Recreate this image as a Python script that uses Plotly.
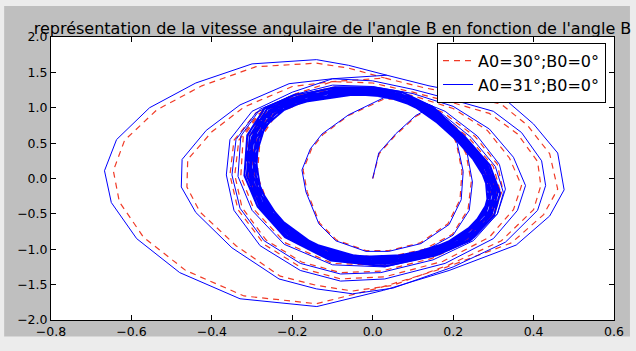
import plotly.graph_objects as go

# ---------------- data (theta_B, omega_B) ----------------
# A0=31°;B0=0° (blue, solid)
b31_first = [(0.0, 0.0), (0.015, 0.36), (0.057, 0.63), (0.107, 0.89), (0.14, 0.99), (0.18, 0.85), (0.21, 0.5),
             (0.225, 0.1), (0.22, -0.3), (0.19, -0.65), (0.12, -0.92), (0.04, -1.03), (-0.017, -1.03),
             (-0.092, -0.88), (-0.134, -0.64), (-0.166, -0.19), (-0.176, 0.12), (-0.155, 0.42), (-0.126, 0.63),
             (-0.06, 0.9), (0.027, 1.14), (0.09, 1.15), (0.15, 1.02), (0.2, 0.75), (0.235, 0.35), (0.248, -0.05),
             (0.24, -0.45), (0.2, -0.8), (0.13, -1.02), (0.03, -1.14), (-0.1, -1.08), (-0.2, -0.78),
             (-0.262, -0.36), (-0.29, 0.04), (-0.283, 0.57), (-0.24, 0.93), (-0.17, 1.1)]
b31_band = [
    (-0.086, 1.18), (0.0, 1.18), (0.067, 1.11), (0.133, 0.93), (0.209, 0.54), (0.266, 0.17), (0.29, -0.19), (0.276, -0.48), (0.221, -0.81), (0.143, -1.0), (0.029, -1.13), (-0.095, -1.06), (-0.2, -0.76), (-0.261, -0.36), (-0.292, 0.04), (-0.285, 0.56), (-0.245, 0.91), (-0.174, 1.08),
    (-0.043, 1.19), (0.034, 1.16), (0.101, 1.03), (0.173, 0.74), (0.24, 0.36), (0.281, -0.01), (0.286, -0.34), (0.252, -0.65), (0.184, -0.91), (0.086, -1.08), (-0.034, -1.11), (-0.149, -0.92), (-0.233, -0.57), (-0.279, -0.16), (-0.292, 0.3), (-0.268, 0.74), (-0.212, 1.01), (-0.132, 1.14),
    (-0.087, 1.2), (0.0, 1.2), (0.068, 1.13), (0.136, 0.95), (0.213, 0.55), (0.272, 0.17), (0.296, -0.19), (0.281, -0.49), (0.226, -0.82), (0.146, -1.02), (0.029, -1.15), (-0.097, -1.09), (-0.204, -0.78), (-0.267, -0.37), (-0.298, 0.04), (-0.291, 0.57), (-0.25, 0.93), (-0.178, 1.11),
    (-0.044, 1.22), (0.034, 1.18), (0.103, 1.05), (0.176, 0.76), (0.245, 0.37), (0.287, -0.01), (0.292, -0.34), (0.257, -0.66), (0.188, -0.93), (0.088, -1.1), (-0.034, -1.13), (-0.152, -0.94), (-0.238, -0.58), (-0.285, -0.17), (-0.298, 0.31), (-0.273, 0.76), (-0.217, 1.03), (-0.134, 1.17),
    (-0.089, 1.23), (0.0, 1.23), (0.069, 1.16), (0.139, 0.97), (0.218, 0.56), (0.277, 0.18), (0.302, -0.2), (0.287, -0.5), (0.231, -0.84), (0.149, -1.04), (0.03, -1.18), (-0.099, -1.11), (-0.208, -0.79), (-0.272, -0.38), (-0.304, 0.04), (-0.297, 0.58), (-0.255, 0.95), (-0.181, 1.13),
    (-0.09, 1.24), (0.0, 1.24), (0.07, 1.17), (0.14, 0.98), (0.22, 0.57), (0.28, 0.18), (0.305, -0.2), (0.29, -0.5), (0.233, -0.85), (0.15, -1.05), (0.03, -1.19), (-0.1, -1.12), (-0.21, -0.8), (-0.275, -0.38), (-0.307, 0.04), (-0.3, 0.59), (-0.258, 0.96), (-0.183, 1.14),
    (-0.045, 1.25), (0.035, 1.22), (0.106, 1.09), (0.182, 0.78), (0.253, 0.38), (0.296, -0.01), (0.301, -0.35), (0.265, -0.68), (0.194, -0.96), (0.091, -1.13), (-0.035, -1.17), (-0.157, -0.97), (-0.245, -0.6), (-0.294, -0.17), (-0.307, 0.32), (-0.282, 0.78), (-0.223, 1.06), (-0.138, 1.2),
    (-0.092, 1.26), (0.0, 1.26), (0.071, 1.19), (0.143, 1.0), (0.224, 0.58), (0.286, 0.18), (0.311, -0.2), (0.296, -0.51), (0.238, -0.87), (0.153, -1.07), (0.031, -1.21), (-0.102, -1.14), (-0.214, -0.82), (-0.281, -0.39), (-0.313, 0.04), (-0.306, 0.6), (-0.263, 0.98), (-0.187, 1.16),
    (-0.046, 1.28), (0.036, 1.24), (0.108, 1.11), (0.185, 0.8), (0.258, 0.39), (0.302, -0.01), (0.307, -0.36), (0.27, -0.7), (0.198, -0.98), (0.093, -1.15), (-0.036, -1.19), (-0.16, -0.99), (-0.25, -0.61), (-0.3, -0.18), (-0.313, 0.32), (-0.287, 0.8), (-0.228, 1.08), (-0.141, 1.23),
    (-0.094, 1.29), (0.0, 1.29), (0.073, 1.22), (0.146, 1.02), (0.229, 0.59), (0.291, 0.19), (0.317, -0.21), (0.302, -0.52), (0.242, -0.88), (0.156, -1.09), (0.031, -1.24), (-0.104, -1.16), (-0.218, -0.83), (-0.286, -0.4), (-0.319, 0.04), (-0.312, 0.61), (-0.268, 1.0), (-0.19, 1.19),
]
b31_outer = [
    (-0.1, 1.27), (0.0, 1.26), (0.08, 1.17), (0.16, 0.97), (0.245, 0.58), (0.305, 0.17), (0.325, -0.2), (0.31, -0.5), (0.25, -0.85), (0.16, -1.08), (0.03, -1.25), (-0.1, -1.22), (-0.22, -0.93), (-0.3, -0.45), (-0.335, 0.03), (-0.328, 0.6), (-0.28, 0.98), (-0.2, 1.17),
    (-0.1, 1.28), (0.0, 1.27), (0.09, 1.16), (0.18, 0.95), (0.26, 0.6), (0.315, 0.2), (0.33, -0.15), (0.31, -0.5), (0.25, -0.88), (0.15, -1.15), (0.02, -1.33), (-0.08, -1.35), (-0.18, -1.2), (-0.27, -0.88), (-0.33, -0.42), (-0.35, 0.05), (-0.34, 0.55), (-0.29, 0.93), (-0.2, 1.18),
    (-0.1, 1.32), (0.0, 1.3), (0.1, 1.2), (0.2, 1.02), (0.29, 0.7), (0.35, 0.3), (0.38, -0.1), (0.36, -0.45), (0.3, -0.85), (0.18, -1.2), (0.03, -1.42), (-0.08, -1.45), (-0.18, -1.3), (-0.28, -0.95), (-0.345, -0.45), (-0.364, 0.05), (-0.355, 0.55), (-0.3, 0.95), (-0.2, 1.22),
    (-0.1, 1.41), (0.0, 1.38), (0.1, 1.26), (0.2, 1.11), (0.3, 0.95), (0.37, 0.65), (0.42, 0.25), (0.43, -0.1), (0.41, -0.45), (0.33, -0.9), (0.2, -1.25), (0.05, -1.55), (-0.05, -1.63), (-0.14, -1.56), (-0.233, -1.42), (-0.35, -0.98), (-0.44, -0.48), (-0.476, -0.12), (-0.474, 0.27), (-0.414, 0.68), (-0.33, 1.04), (-0.208, 1.34), (-0.1, 1.41),
    (0.035, 1.46), (0.14, 1.31), (0.24, 1.2), (0.337, 1.08), (0.4, 0.77), (0.46, 0.36), (0.476, -0.16), (0.44, -0.53), (0.357, -0.94), (0.19, -1.3), (0.027, -1.58), (-0.139, -1.81), (-0.33, -1.7), (-0.48, -1.33), (-0.587, -0.85), (-0.65, -0.34), (-0.667, 0.11), (-0.637, 0.55), (-0.555, 1.0), (-0.44, 1.35), (-0.3, 1.62), (-0.14, 1.68), (-0.06, 1.6), (0.035, 1.46),
]

# A0=30°;B0=0° (red, dashed)
r30_first = [(0.0, 0.0), (0.016, 0.35), (0.058, 0.62), (0.108, 0.88), (0.14, 0.98), (0.18, 0.84), (0.208, 0.5),
             (0.222, 0.1), (0.217, -0.3), (0.187, -0.64), (0.118, -0.91), (0.04, -1.02), (-0.017, -1.02),
             (-0.09, -0.87), (-0.132, -0.63), (-0.163, -0.19), (-0.173, 0.12), (-0.152, 0.42), (-0.124, 0.62),
             (-0.06, 0.89), (0.027, 1.12), (0.09, 1.13), (0.15, 1.0), (0.198, 0.74), (0.232, 0.35), (0.245, -0.05),
             (0.237, -0.44), (0.198, -0.79), (0.128, -1.0), (0.03, -1.12), (-0.1, -1.06), (-0.2, -0.77),
             (-0.26, -0.36), (-0.287, 0.04), (-0.28, 0.56), (-0.238, 0.92), (-0.168, 1.09)]
r30_band = [
    (-0.087, 1.19), (0.0, 1.19), (0.068, 1.12), (0.136, 0.94), (0.213, 0.55), (0.271, 0.17), (0.295, -0.19), (0.28, -0.48), (0.225, -0.82), (0.145, -1.01), (0.029, -1.14), (-0.097, -1.08), (-0.203, -0.77), (-0.266, -0.37), (-0.297, 0.04), (-0.29, 0.57), (-0.25, 0.92), (-0.177, 1.1),
    (-0.045, 1.23), (0.035, 1.19), (0.104, 1.06), (0.178, 0.77), (0.248, 0.37), (0.29, -0.01), (0.295, -0.35), (0.259, -0.67), (0.19, -0.94), (0.089, -1.11), (-0.035, -1.14), (-0.153, -0.95), (-0.24, -0.58), (-0.288, -0.17), (-0.301, 0.31), (-0.276, 0.77), (-0.219, 1.04), (-0.136, 1.18),
    (-0.091, 1.25), (0.0, 1.25), (0.071, 1.18), (0.141, 0.99), (0.222, 0.58), (0.283, 0.18), (0.308, -0.2), (0.293, -0.5), (0.235, -0.86), (0.152, -1.06), (0.03, -1.2), (-0.101, -1.13), (-0.212, -0.81), (-0.278, -0.38), (-0.31, 0.04), (-0.303, 0.6), (-0.261, 0.97), (-0.185, 1.15),
    (-0.046, 1.26), (0.036, 1.23), (0.107, 1.1), (0.184, 0.79), (0.255, 0.38), (0.299, -0.01), (0.304, -0.36), (0.267, -0.69), (0.196, -0.97), (0.092, -1.14), (-0.036, -1.18), (-0.158, -0.98), (-0.248, -0.6), (-0.297, -0.17), (-0.31, 0.32), (-0.285, 0.79), (-0.225, 1.07), (-0.14, 1.21),
    (-0.093, 1.28), (0.0, 1.28), (0.072, 1.21), (0.145, 1.01), (0.228, 0.59), (0.29, 0.19), (0.316, -0.21), (0.3, -0.52), (0.241, -0.88), (0.155, -1.09), (0.031, -1.23), (-0.103, -1.16), (-0.217, -0.83), (-0.285, -0.39), (-0.318, 0.04), (-0.31, 0.61), (-0.267, 0.99), (-0.189, 1.18),
]
r30_outer = [
    (-0.1, 1.25), (0.0, 1.24), (0.08, 1.15), (0.158, 0.95), (0.24, 0.57), (0.3, 0.17), (0.318, -0.2), (0.303, -0.49), (0.245, -0.83), (0.157, -1.06), (0.03, -1.23), (-0.1, -1.2), (-0.217, -0.91), (-0.295, -0.44), (-0.328, 0.03), (-0.322, 0.59), (-0.275, 0.96), (-0.197, 1.15),
    (-0.1, 1.26), (0.0, 1.25), (0.088, 1.14), (0.176, 0.93), (0.255, 0.59), (0.31, 0.2), (0.323, -0.15), (0.303, -0.49), (0.245, -0.86), (0.147, -1.13), (0.02, -1.31), (-0.08, -1.33), (-0.177, -1.18), (-0.265, -0.87), (-0.325, -0.41), (-0.343, 0.05), (-0.333, 0.54), (-0.285, 0.91), (-0.197, 1.16),
    (-0.1, 1.29), (0.0, 1.27), (0.1, 1.17), (0.2, 0.99), (0.285, 0.68), (0.34, 0.29), (0.37, -0.1), (0.35, -0.44), (0.29, -0.83), (0.175, -1.17), (0.03, -1.39), (-0.08, -1.42), (-0.175, -1.27), (-0.27, -0.93), (-0.335, -0.44), (-0.355, 0.05), (-0.345, 0.54), (-0.29, 0.93), (-0.195, 1.19),
    (-0.1, 1.37), (0.0, 1.35), (0.1, 1.22), (0.2, 1.07), (0.29, 0.92), (0.36, 0.63), (0.41, 0.24), (0.418, -0.1), (0.4, -0.44), (0.32, -0.88), (0.19, -1.22), (0.05, -1.51), (-0.05, -1.59), (-0.14, -1.51), (-0.23, -1.38), (-0.34, -0.95), (-0.43, -0.47), (-0.462, -0.12), (-0.46, 0.27), (-0.4, 0.66), (-0.32, 1.01), (-0.2, 1.3), (-0.1, 1.37),
    (0.03, 1.42), (0.13, 1.28), (0.23, 1.17), (0.32, 1.05), (0.385, 0.75), (0.44, 0.35), (0.46, -0.15), (0.425, -0.51), (0.345, -0.91), (0.18, -1.26), (0.02, -1.54), (-0.14, -1.77), (-0.32, -1.66), (-0.465, -1.3), (-0.57, -0.83), (-0.63, -0.33), (-0.645, 0.11), (-0.617, 0.54), (-0.537, 0.97), (-0.425, 1.31), (-0.29, 1.58), (-0.14, 1.63), (-0.06, 1.56), (0.03, 1.42),
]

x_ticks = [-0.8, -0.6, -0.4, -0.2, 0.0, 0.2, 0.4, 0.6]
y_ticks = [-2.0, -1.5, -1.0, -0.5, 0.0, 0.5, 1.0, 1.5, 2.0]
series_names = ["A0=30°;B0=0°", "A0=31°;B0=0°"]
title_text = "représentation de la vitesse angulaire de l'angle B en fonction de l'angle B"

FONT = "DejaVu Sans"
W, H = 636, 351
L, R, T, B = 51, 20, 37, 22
pw, ph = W - L - R, H - T - B

RED, BLUE = "#f03a26", "#0000ff"
fig = go.Figure()


def add_path(segs, widths, color, dash, name, group, legend_idx):
    prev = None
    for i, (seg, w) in enumerate(zip(segs, widths)):
        pts = ([prev] if prev is not None else []) + seg
        fig.add_trace(go.Scatter(
            x=[p[0] for p in pts], y=[p[1] for p in pts], mode="lines", name=name,
            legendgroup=group, showlegend=(i == legend_idx),
            line=dict(color=color, width=w, dash=dash)))
        prev = seg[-1]


add_path([r30_first, r30_band, r30_outer], [1.2, 1.4, 1.2], RED, "6px,5px", series_names[0], "a30", 0)
add_path([b31_first, b31_band, b31_outer], [1, 2.0, 1], BLUE, "solid", series_names[1], "a31", 0)

axis_common = dict(showgrid=False, zeroline=False, showline=True, linecolor="black", linewidth=1,
                   mirror="ticks", ticks="inside", ticklen=5, tickcolor="black", tickwidth=1,
                   tickformat=".1f", tickfont=dict(family=FONT, size=12.5, color="black"))
fig.update_xaxes(range=[-0.8, 0.6], tickvals=x_ticks, **axis_common)
fig.update_yaxes(range=[-2.0, 2.0], tickvals=y_ticks, **axis_common)

fig.update_layout(
    width=W, height=H, margin=dict(l=L, r=R, t=T, b=B, pad=0),
    paper_bgcolor="#ececec", plot_bgcolor="white",
    font=dict(family=FONT, color="black"),
    title=dict(text=title_text, x=0.5, xref="paper", xanchor="center",
               y=1.0, yref="paper", yanchor="bottom", pad=dict(b=3),
               font=dict(family=FONT, size=16, color="black")),
    legend=dict(x=(608 - L) / pw, y=(H - B - 43) / ph, xanchor="right", yanchor="top",
                bgcolor="white", bordercolor="black", borderwidth=1,
                font=dict(family=FONT, size=16, color="black"), itemwidth=30,
                traceorder="normal"),
    showlegend=True,
    shapes=[
        dict(type="rect", xref="paper", yref="paper", layer="below",
             x0=(4 - L) / pw, x1=(632 - L) / pw, y0=(H - B - 346) / ph, y1=(H - B - 5) / ph,
             fillcolor="#bfbfbf", line=dict(width=0)),
        dict(type="rect", xref="paper", yref="paper", layer="below",
             x0=0, x1=1, y0=0, y1=1, fillcolor="white", line=dict(width=0)),
    ],
)

fig.write_html("out.html")
